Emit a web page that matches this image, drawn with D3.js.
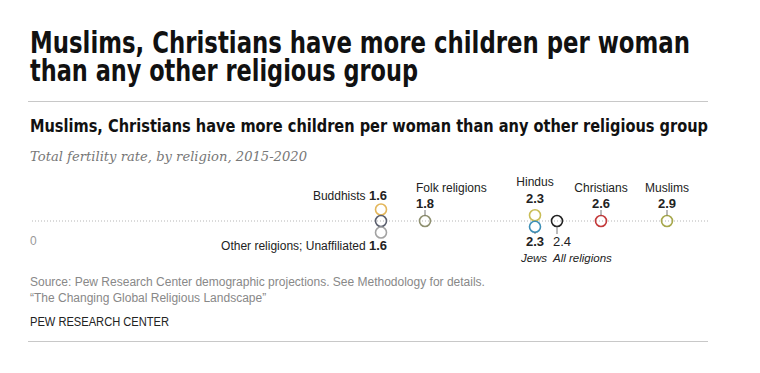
<!DOCTYPE html>
<html>
<head>
<meta charset="utf-8">
<script src="https://cdn.jsdelivr.net/npm/d3@7"></script>
<style>
  body { margin: 0; background: #fff; }
  svg { display: block; }
</style>
</head>
<body>
<div id="chart"></div>
<script>
// donnees : taux de fecondite par religion, 2015-2020
var religions = ["Buddhists", "Other religions", "Unaffiliated", "Folk religions", "Hindus", "Jews", "All religions", "Christians", "Muslims"];
var fertility = [1.6, 1.6, 1.6, 1.8, 2.3, 2.3, 2.4, 2.6, 2.9];
var axisTicks = [0];

var titleLines = ["Muslims, Christians have more children per woman", "than any other religious group"];
var subtitle = "Muslims, Christians have more children per woman than any other religious group";
var note = "Total fertility rate, by religion, 2015-2020";
var sourceLines = ["Source: Pew Research Center demographic projections. See Methodology for details.", "\u201cThe Changing Global Religious Landscape\u201d"];

// couleurs des cercles
var colors = ["#e3b65a", "#5b5f6e", "#a3a3a3", "#8f9070", "#c9bd56", "#3d8fb6", "#222222", "#c4393a", "#a7a84c"];

const width = 760, height = 373;
const axisY = 221;
const condensed = "'DejaVu Sans Condensed', 'DejaVu Sans', sans-serif";

var svg = d3.select("#chart")
  .append("svg")
  .attr("width", width)
  .attr("height", height);

// echelles
var x = d3.scaleLinear()
  .domain([0, 3])
  .range([29, 689]);

// empilement vertical des cercles qui se chevauchent
var stack = { "Buddhists": -1, "Other religions": 0, "Unaffiliated": 1, "Hindus": -0.5, "Jews": 0.5 };
var y = d3.scaleLinear().domain([-1, 1]).range([axisY - 11.5, axisY + 11.5]);

var color = d3.scaleOrdinal().domain(religions).range(colors);

var rows = religions.map(function (r, i) {
  return { name: r, value: fertility[i], level: stack[r] || 0 };
});

// titre (largeurs calees sur l'original)
var titleWidths = [660, 388];
svg.append("g")
  .selectAll("text")
  .data(titleLines)
  .join("text")
  .attr("x", 30)
  .attr("y", function (d, i) { return 53 + i * 28; })
  .attr("textLength", function (d, i) { return titleWidths[i]; })
  .attr("lengthAdjust", "spacingAndGlyphs")
  .style("font-family", condensed)
  .style("font-weight", "bold")
  .style("font-size", "30px")
  .style("fill", "#111")
  .text(function (d) { return d; });

svg.append("line")
  .attr("x1", 28).attr("x2", 708)
  .attr("y1", 101.5).attr("y2", 101.5)
  .style("stroke", "#c8c8c8");

svg.append("text")
  .attr("x", 30).attr("y", 132)
  .attr("textLength", 678)
  .attr("lengthAdjust", "spacingAndGlyphs")
  .style("font-family", condensed)
  .style("font-weight", "bold")
  .style("font-size", "18px")
  .style("fill", "#111")
  .text(subtitle);

svg.append("text")
  .attr("x", 30).attr("y", 161)
  .attr("textLength", 277)
  .attr("lengthAdjust", "spacingAndGlyphs")
  .style("font-family", "'DejaVu Serif', 'Liberation Serif', serif")
  .style("font-style", "italic")
  .style("font-size", "13.5px")
  .style("fill", "#777")
  .text(note);

// axe pointille
svg.append("line")
  .attr("x1", x(0) + 3).attr("x2", 708)
  .attr("y1", axisY).attr("y2", axisY)
  .style("stroke", "#b5b5b5")
  .style("stroke-width", 1)
  .style("stroke-dasharray", "1,2");

svg.append("g")
  .selectAll("text")
  .data(axisTicks)
  .join("text")
  .attr("x", function (d) { return x(d) + 1; })
  .attr("y", 245)
  .style("font-family", "'Liberation Sans', sans-serif")
  .style("font-size", "12px")
  .style("fill", "#999")
  .text(function (d) { return d; });

// cercles
svg.append("g")
  .selectAll("circle")
  .data(rows)
  .join("circle")
  .attr("cx", function (d) { return x(d.value); })
  .attr("cy", function (d) { return y(d.level); })
  .attr("r", 5.5)
  .style("fill", "#fff")
  .style("fill-opacity", 0)
  .style("stroke", function (d) { return color(d.name); })
  .style("stroke-width", 1.6);

// etiquettes
var labelFont = "'Liberation Sans', Arial, sans-serif";
var byName = {};
rows.forEach(function (d) { byName[d.name] = d; });
var fmt = d3.format(".1f");

function label(xp, yp, txt, opts) {
  var t = svg.append("text")
    .attr("x", xp).attr("y", yp)
    .attr("text-anchor", opts.anchor || "middle")
    .style("font-family", labelFont)
    .style("font-size", (opts.size || 12) + "px")
    .style("fill", "#222");
  if (opts.bold) t.style("font-weight", "bold");
  if (opts.italic) t.style("font-style", "italic");
  t.text(txt);
  return t;
}
function stem(xp, y1, y2) {
  svg.append("line")
    .attr("x1", xp).attr("x2", xp)
    .attr("y1", y1).attr("y2", y2)
    .style("stroke", "#555")
    .style("stroke-width", 0.8);
}

// Buddhists : a gauche, au-dessus
var b = byName["Buddhists"];
var bt = label(x(b.value) + 6, 200, "", { anchor: "end" });
bt.append("tspan").text("Buddhists ");
bt.append("tspan").style("font-weight", "bold").style("font-size", "13px").text(fmt(b.value));

// Other religions; Unaffiliated : a gauche, en dessous
var u = byName["Unaffiliated"];
var ut = label(x(u.value) + 6, 250, "", { anchor: "end" });
ut.append("tspan").text("Other religions; Unaffiliated ");
ut.append("tspan").style("font-weight", "bold").style("font-size", "13px").text(fmt(u.value));

// au-dessus de l'axe
var f = byName["Folk religions"];
label(x(f.value) - 9, 192, "Folk religions", { anchor: "start" });
label(x(f.value), 208, fmt(f.value), { bold: true, size: 13 });
stem(x(f.value), 210, y(f.level) - 5.5);

["Christians", "Muslims"].forEach(function (n) {
  var d = byName[n];
  var cx = x(d.value);
  label(cx, 192, n, {});
  label(cx, 208, fmt(d.value), { bold: true, size: 13 });
  stem(cx, 210, y(d.level) - 5.5);
});

var h = byName["Hindus"];
label(x(h.value), 186, "Hindus", {});
label(x(h.value), 203, fmt(h.value), { bold: true, size: 13 });

// en dessous de l'axe
var j = byName["Jews"];
label(x(j.value), 246, fmt(j.value), { bold: true, size: 13 });
label(x(j.value) - 1, 262, "Jews", { italic: true, size: 11.5 });
stem(x(j.value), y(j.level) + 5.5, 234);

var a = byName["All religions"];
stem(x(a.value), y(a.level) + 5.5, 234);
label(x(a.value) - 4, 246, fmt(a.value), { anchor: "start", size: 13 });
label(x(a.value) - 4, 262, "All religions", { anchor: "start", italic: true, size: 11.5 });

// source
svg.append("g")
  .selectAll("text")
  .data(sourceLines)
  .join("text")
  .attr("x", 30)
  .attr("y", function (d, i) { return 286 + i * 16; })
  .style("font-family", labelFont)
  .style("font-size", "12px")
  .style("fill", "#888")
  .text(function (d) { return d; });

svg.append("text")
  .attr("x", 30).attr("y", 326)
  .attr("textLength", 139)
  .attr("lengthAdjust", "spacingAndGlyphs")
  .style("font-family", labelFont)
  .style("font-size", "12px")
  .style("fill", "#222")
  .text("PEW RESEARCH CENTER");

svg.append("line")
  .attr("x1", 28).attr("x2", 708)
  .attr("y1", 341.5).attr("y2", 341.5)
  .style("stroke", "#c8c8c8");
</script>
</body>
</html>
